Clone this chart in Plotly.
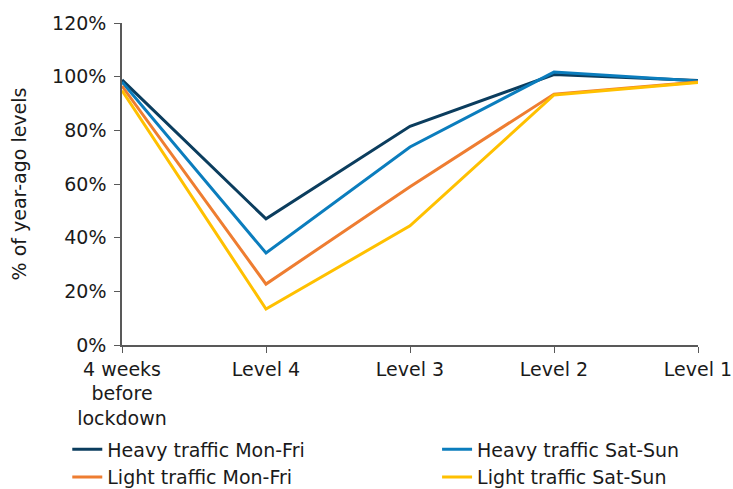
import plotly.graph_objects as go

categories = ["4 weeks<br>before<br>lockdown", "Level 4", "Level 3", "Level 2", "Level 1"]
heavy_mon_fri = [98.8, 47.0, 81.5, 100.8, 98.6]
heavy_sat_sun = [98.0, 34.3, 73.8, 101.7, 98.4]
light_mon_fri = [96.5, 22.7, 59.0, 93.5, 98.0]
light_sat_sun = [94.8, 13.4, 44.4, 93.2, 97.8]

series = [
    ("Heavy traffic Mon-Fri", heavy_mon_fri, "#0b3d5e", "legend"),
    ("Heavy traffic Sat-Sun", heavy_sat_sun, "#0b7dbd", "legend2"),
    ("Light traffic Mon-Fri", light_mon_fri, "#ee7d31", "legend"),
    ("Light traffic Sat-Sun", light_sat_sun, "#ffc000", "legend2"),
]

fig = go.Figure()
for name, vals, color, lg in series:
    fig.add_trace(go.Scatter(
        x=categories, y=[v / 100 for v in vals], name=name, mode="lines",
        line=dict(color=color, width=3), legend=lg,
    ))

font = dict(family="DejaVu Sans", size=19, color="#1a1a1a")
legend_common = dict(
    orientation="v", xanchor="left", yanchor="top", y=-0.265,
    font=font, tracegroupgap=0, bgcolor="rgba(0,0,0,0)",
)
fig.update_layout(
    width=733, height=489,
    margin=dict(l=122, r=35, t=23, b=144, autoexpand=False),
    paper_bgcolor="white", plot_bgcolor="white",
    font=font,
    showlegend=True,
    legend=dict(x=-0.095, **legend_common),
    legend2=dict(x=0.547, **legend_common),
    xaxis=dict(
        type="category", range=[0, 4], showgrid=False,
        showline=True, linecolor="#595959", linewidth=1.5,
        ticks="outside", ticklen=6, tickcolor="#595959",
        tickfont=font,
    ),
    yaxis=dict(
        range=[0, 1.2], tickvals=[0, 0.2, 0.4, 0.6, 0.8, 1.0, 1.2],
        tickformat=".0%", showgrid=False, zeroline=False,
        showline=True, linecolor="#595959", linewidth=1.5,
        ticks="outside", ticklen=6, tickcolor="#595959",
        tickfont=font, ticklabelstandoff=4,
        title=dict(text="% of year-ago levels", font=font, standoff=20),
    ),
)

fig.write_html(
    "out.html",
    config={"displayModeBar": False},
    post_script="document.body.style.margin='0';document.body.style.overflow='hidden';",
)
